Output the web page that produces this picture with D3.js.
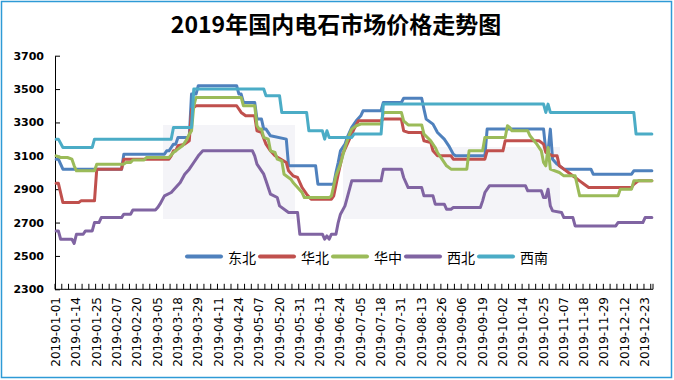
<!DOCTYPE html>
<html><head><meta charset="utf-8">
<script src="https://cdn.jsdelivr.net/npm/d3@7"></script>
<style>body{margin:0;background:#fff}svg{display:block}</style>
</head><body><svg id="c" width="674" height="380"></svg>
<script>
// ---------- data ----------
const chartTitle = "2019年国内电石市场价格走势图";
const seriesNames = ["东北", "华北", "华中", "西北", "西南"];
const seriesColors = ["#4F81BD", "#C0504D", "#9BBB59", "#8064A2", "#4BACC6"];
const yTicks = [2300, 2500, 2700, 2900, 3100, 3300, 3500, 3700];
// working days on top of Mon–Fri that appear as categories
const extraDays = ["2019-06-15", "2019-06-22", "2019-10-12", "2019-11-09", "2019-11-16", "2019-12-14", "2019-12-21"];
const xTickLabels = ["2019-01-01","2019-01-14","2019-01-25","2019-02-07","2019-02-20","2019-03-05","2019-03-18","2019-03-29","2019-04-11","2019-04-24","2019-05-07","2019-05-20","2019-05-31","2019-06-13","2019-06-24","2019-07-05","2019-07-18","2019-07-31","2019-08-13","2019-08-26","2019-09-06","2019-09-19","2019-10-02","2019-10-14","2019-10-25","2019-11-07","2019-11-18","2019-11-29","2019-12-12","2019-12-23"];

// price readings [month-day, yuan/ton]
const dongbei = [["01-01",3080],["01-02",3080],["01-04",3020],["02-11",3020],["02-12",3110],["03-08",3110],["03-11",3130],["03-12",3130],["03-13",3150],["03-14",3170],["03-15",3170],["03-18",3210],["03-25",3210],["03-26",3470],["03-28",3470],["03-29",3520],["04-23",3520],["04-24",3470],["04-25",3470],["04-26",3420],["05-03",3420],["05-06",3320],["05-08",3320],["05-09",3260],["05-10",3260],["05-14",3220],["05-23",3200],["05-24",3040],["06-11",3040],["06-12",2930],["06-20",2930],["06-21",3000],["06-22",3060],["06-24",3130],["06-26",3170],["06-27",3210],["07-01",3270],["07-03",3310],["07-05",3340],["07-08",3370],["07-18",3370],["07-19",3420],["07-31",3420],["08-01",3445],["08-13",3445],["08-14",3380],["08-15",3320],["08-20",3290],["08-22",3240],["08-27",3200],["08-29",3160],["09-02",3110],["09-03",3100],["09-20",3100],["09-23",3260],["10-25",3260],["10-28",3130],["10-29",3130],["10-30",3260],["10-31",3080],["11-04",3050],["11-07",3020],["11-21",3020],["11-22",2990],["12-16",2990],["12-17",3010],["12-26",3010]];
const huabei = [["01-01",2935],["01-02",2935],["01-04",2820],["01-15",2820],["01-16",2830],["01-24",2830],["01-25",3020],["02-11",3020],["02-12",3080],["03-12",3080],["03-13",3100],["03-14",3130],["03-15",3130],["03-18",3160],["03-21",3170],["03-25",3190],["03-26",3380],["03-28",3400],["04-23",3400],["04-25",3360],["04-29",3340],["05-03",3340],["05-06",3250],["05-08",3240],["05-10",3170],["05-14",3130],["05-16",3100],["05-23",3060],["05-24",3010],["05-28",2980],["05-30",2970],["06-03",2910],["06-05",2870],["06-07",2840],["06-19",2840],["06-20",2860],["06-22",2990],["06-25",3110],["07-01",3230],["07-02",3260],["07-04",3310],["07-18",3310],["07-19",3320],["07-31",3320],["08-01",3250],["08-05",3240],["08-13",3240],["08-14",3190],["08-19",3180],["08-20",3130],["08-22",3100],["08-30",3100],["09-02",3080],["09-20",3080],["09-23",3130],["10-02",3130],["10-03",3190],["10-23",3190],["10-25",3170],["10-28",3120],["10-31",3100],["11-04",3100],["11-05",3040],["11-07",3020],["11-09",3000],["11-13",2970],["11-15",2950],["11-18",2930],["11-20",2910],["12-16",2910],["12-17",2930],["12-19",2950],["12-26",2950]];
const huazhong = [["01-01",3100],["01-03",3090],["01-08",3090],["01-10",3080],["01-11",3040],["01-14",3010],["01-24",3010],["01-25",3050],["02-12",3050],["02-13",3060],["02-15",3060],["02-18",3075],["02-25",3075],["02-26",3090],["03-12",3090],["03-14",3120],["03-18",3140],["03-20",3160],["03-22",3200],["03-25",3230],["03-26",3250],["03-27",3400],["03-28",3450],["04-25",3450],["04-26",3400],["05-03",3400],["05-06",3280],["05-07",3260],["05-08",3260],["05-09",3210],["05-13",3200],["05-14",3130],["05-16",3120],["05-17",3080],["05-21",3070],["05-22",2990],["05-27",2960],["05-28",2940],["05-30",2910],["06-03",2880],["06-04",2850],["06-18",2850],["06-19",2860],["06-21",2980],["06-24",3050],["06-26",3150],["06-28",3230],["07-01",3260],["07-03",3280],["07-05",3290],["07-18",3290],["07-19",3360],["07-31",3360],["08-01",3310],["08-05",3285],["08-13",3285],["08-14",3230],["08-19",3190],["08-21",3150],["08-22",3120],["08-26",3080],["08-28",3040],["08-30",3020],["09-10",3020],["09-11",3130],["09-19",3130],["09-20",3210],["10-03",3210],["10-04",3280],["10-07",3270],["10-08",3250],["10-16",3250],["10-17",3220],["10-22",3170],["10-24",3130],["10-25",3060],["10-28",3040],["10-29",3150],["10-30",3020],["11-05",3000],["11-07",2980],["11-13",2980],["11-15",2860],["12-09",2860],["12-10",2900],["12-16",2900],["12-17",2950],["12-26",2950]];
const xibei = [["01-01",2650],["01-02",2650],["01-03",2600],["01-10",2600],["01-11",2575],["01-14",2630],["01-17",2630],["01-18",2650],["01-23",2650],["01-24",2700],["01-28",2700],["01-29",2730],["02-11",2730],["02-12",2750],["02-15",2750],["02-18",2775],["03-04",2775],["03-05",2790],["03-06",2810],["03-08",2860],["03-13",2880],["03-15",2910],["03-19",2940],["03-21",2990],["03-25",3020],["03-27",3060],["03-29",3100],["04-02",3130],["05-02",3130],["05-03",3100],["05-06",3050],["05-09",2990],["05-10",2950],["05-14",2870],["05-17",2850],["05-20",2800],["05-24",2760],["05-30",2760],["05-31",2630],["06-14",2630],["06-15",2600],["06-17",2620],["06-18",2600],["06-19",2630],["06-21",2630],["06-22",2700],["06-24",2750],["06-26",2800],["06-27",2850],["07-01",2950],["07-18",2950],["07-19",3020],["07-31",3020],["08-01",2970],["08-05",2910],["08-13",2910],["08-14",2860],["08-20",2860],["08-21",2810],["08-27",2810],["08-28",2780],["08-30",2780],["09-02",2790],["09-18",2790],["09-19",2830],["09-20",2880],["09-24",2920],["10-15",2920],["10-16",2890],["10-24",2890],["10-25",2850],["10-28",2850],["10-29",2900],["10-30",2800],["10-31",2770],["11-06",2760],["11-07",2730],["11-12",2730],["11-13",2680],["12-06",2680],["12-09",2700],["12-21",2700],["12-23",2730],["12-26",2730]];
const xinan = [["01-01",3200],["01-02",3200],["01-04",3150],["01-23",3150],["01-24",3200],["03-13",3200],["03-14",3270],["03-26",3270],["03-27",3500],["05-09",3500],["05-10",3460],["05-20",3460],["05-21",3360],["06-05",3360],["06-06",3250],["06-14",3250],["06-15",3200],["06-17",3250],["06-18",3210],["07-01",3210],["07-02",3230],["07-18",3230],["07-19",3410],["10-25",3410],["10-28",3360],["10-29",3410],["10-30",3360],["12-17",3360],["12-18",3230],["12-26",3230]];
const seriesData = [dongbei, huabei, huazhong, xibei, xinan];

// ---------- categories (trading days) ----------
const fmt = d3.timeFormat("%Y-%m-%d");
const categories = d3.timeDay.range(new Date(2019, 0, 1), new Date(2019, 11, 27))
  .filter(d => d.getDay() !== 0 && d.getDay() !== 6).map(fmt)
  .concat(extraDays).sort();

// ---------- layout ----------
const svg = d3.select("#c");
const L = 55, R = 653, T = 55.7, B = 289.3;
const x = d3.scalePoint().domain(categories).range([L, R]).padding(0.5);
const xb = d3.scaleBand().domain(categories).range([L, R]);
const y = d3.scaleLinear().domain([2300, 3700]).range([B, T]);

svg.append("rect").attr("width", 674).attr("height", 380).attr("fill", "#fff");
svg.append("rect").attr("x", 1.5).attr("y", 1.5).attr("width", 670).attr("height", 376)
  .attr("fill", "none").attr("stroke", "#2E9AD6").attr("stroke-width", 1.5);

// faint watermark panels
svg.append("rect").attr("x", 163).attr("y", 125).attr("width", 132).attr("height", 94).attr("fill", "#f4f4f8");
svg.append("rect").attr("x", 343).attr("y", 147).attr("width", 217).attr("height", 72).attr("fill", "#f4f4f8");

svg.append("text").attr("x", 336).attr("y", 33).attr("text-anchor", "middle")
  .attr("font-family", "'Noto Sans CJK SC', sans-serif").attr("font-weight", "bold")
  .attr("font-size", 23).attr("fill", "#000").text(chartTitle);

// y axis
const ya = svg.append("g").attr("transform", `translate(${L},0)`)
  .call(d3.axisLeft(y).tickValues(yTicks).tickFormat(d3.format("d")).tickSize(-5).tickSizeOuter(0).tickPadding(11));
ya.select(".domain").attr("stroke", "#000");
ya.selectAll(".tick line").attr("stroke", "#000");
ya.selectAll("text").attr("font-family", "'DejaVu Sans', sans-serif").attr("font-weight", "bold")
  .attr("font-size", 11).attr("fill", "#000");

// x axis line + inside tick marks every 3 categories
const xa = svg.append("g");
xa.append("line").attr("x1", L).attr("x2", R).attr("y1", B).attr("y2", B).attr("stroke", "#000");
const tickCats = categories.filter((d, i) => i % 3 === 0);
xa.selectAll("line.t").data(tickCats).join("line").attr("class", "t")
  .attr("x1", d => xb(d)).attr("x2", d => xb(d)).attr("y1", B).attr("y2", B - 5.5).attr("stroke", "#000");
xa.append("line").attr("x1", R).attr("x2", R).attr("y1", B).attr("y2", B - 5.5).attr("stroke", "#000");
xa.selectAll("text").data(xTickLabels).join("text")
  .attr("transform", d => `translate(${x(d)},297) rotate(-90)`)
  .attr("text-anchor", "end").attr("dominant-baseline", "central")
  .attr("font-family", "'DejaVu Sans', sans-serif").attr("font-size", 12).attr("fill", "#000")
  .text(d => d);

// series
const line = d3.line().x(d => x("2019-" + d[0])).y(d => y(d[1]));
seriesData.forEach((s, k) => {
  svg.append("path").datum(s).attr("d", line).attr("fill", "none")
    .attr("stroke", seriesColors[k]).attr("stroke-width", 3)
    .attr("stroke-linejoin", "round").attr("stroke-linecap", "round");
});

// legend
const lg = svg.append("g").attr("transform", "translate(186,256.5)");
seriesNames.forEach((n, k) => {
  const g = lg.append("g").attr("transform", `translate(${k * 73},0)`);
  g.append("line").attr("x1", 1).attr("x2", 35).attr("stroke", seriesColors[k])
    .attr("stroke-width", 4).attr("stroke-linecap", "round");
  g.append("text").attr("x", 42).attr("dominant-baseline", "central")
    .attr("font-family", "'Noto Sans CJK SC', sans-serif").attr("font-size", 14).attr("fill", "#000").text(n);
});
</script>
</body></html>
